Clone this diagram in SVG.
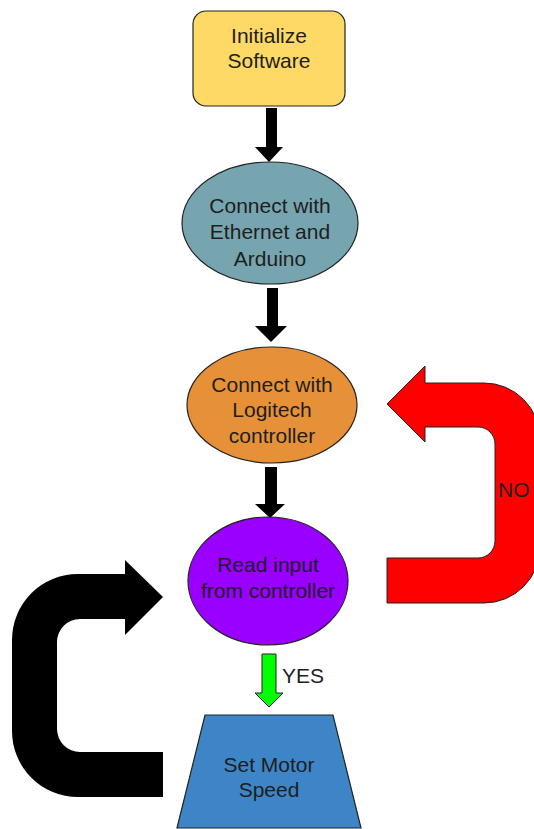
<svg xmlns="http://www.w3.org/2000/svg" width="534" height="829" viewBox="0 0 534 829">
  <style>
    .node { stroke: #222; stroke-width: 1.2; }
    .label { font-family: "Liberation Sans", Arial, sans-serif; font-size: 21px; fill: #1e1e1e; text-anchor: middle; }
    .tag { font-family: "Liberation Sans", Arial, sans-serif; font-size: 21px; fill: #1e1e1e; }
    .blk { fill: #000; }
  </style>

  <g id="connectors">
    <!-- straight down arrows -->
    <path class="blk" d="M266,108 L277,108 L277,147 L283,147 L269,162 L255,147 L266,147 Z"/>
    <path class="blk" d="M267,288 L278,288 L278,326 L287,326 L271,342 L255,326 L267,326 Z"/>
    <path class="blk" d="M265,467 L277,467 L277,504 L285,504 L270,518 L255,504 L265,504 Z"/>
    <!-- YES arrow -->
    <path d="M262,654 L276,654 L276,693 L283,693 L269,707 L255,693 L262,693 Z" fill="#00ff00" stroke="#222" stroke-width="1"/>
    <text class="tag" x="282" y="683">YES</text>
    <!-- NO loop back -->
    <path d="M387,404 L425,366 L425,383 L484,383 A56,56 0 0 1 540,439 L540,547 A56,56 0 0 1 484,603 L387,603 L387,558 L478,558 A17,17 0 0 0 495,541 L495,444 A17,17 0 0 0 478,427 L425,427 L425,442 Z" fill="#ff0000" stroke="#222" stroke-width="1"/>
    <text class="tag" x="498" y="497">NO</text>
    <!-- loop to read input -->
    <path class="blk" d="M163,597 L125,560 L125,574 L78,574 A66,66 0 0 0 12,640 L12,731 A66,66 0 0 0 78,797 L163,797 L163,752 L80,752 A23,23 0 0 1 57,729 L57,642 A23,23 0 0 1 80,619 L125,619 L125,635 Z"/>
  </g>

  <g id="init">
    <rect class="node" x="193" y="11" width="152" height="95" rx="13" fill="#ffd966"/>
    <text class="label" x="269" y="43">Initialize</text>
    <text class="label" x="269" y="68">Software</text>
  </g>

  <g id="ethernet">
    <ellipse class="node" cx="270" cy="223" rx="88" ry="61" fill="#76a5af"/>
    <text class="label" x="270" y="213">Connect with</text>
    <text class="label" x="270" y="239">Ethernet and</text>
    <text class="label" x="270" y="266">Arduino</text>
  </g>

  <g id="logitech">
    <ellipse class="node" cx="272" cy="405" rx="85" ry="58" fill="#e69138"/>
    <text class="label" x="272" y="392">Connect with</text>
    <text class="label" x="272" y="417">Logitech</text>
    <text class="label" x="272" y="443">controller</text>
  </g>

  <g id="read">
    <ellipse class="node" cx="268" cy="581" rx="80" ry="64" fill="#9900ff"/>
    <text class="label" x="268" y="572">Read input</text>
    <text class="label" x="268" y="598">from controller</text>
  </g>

  <g id="motor">
    <path class="node" d="M205,715 L333,715 L361,828 L177,828 Z" fill="#3d85c6"/>
    <text class="label" x="269" y="772">Set Motor</text>
    <text class="label" x="269" y="797">Speed</text>
  </g>
</svg>
